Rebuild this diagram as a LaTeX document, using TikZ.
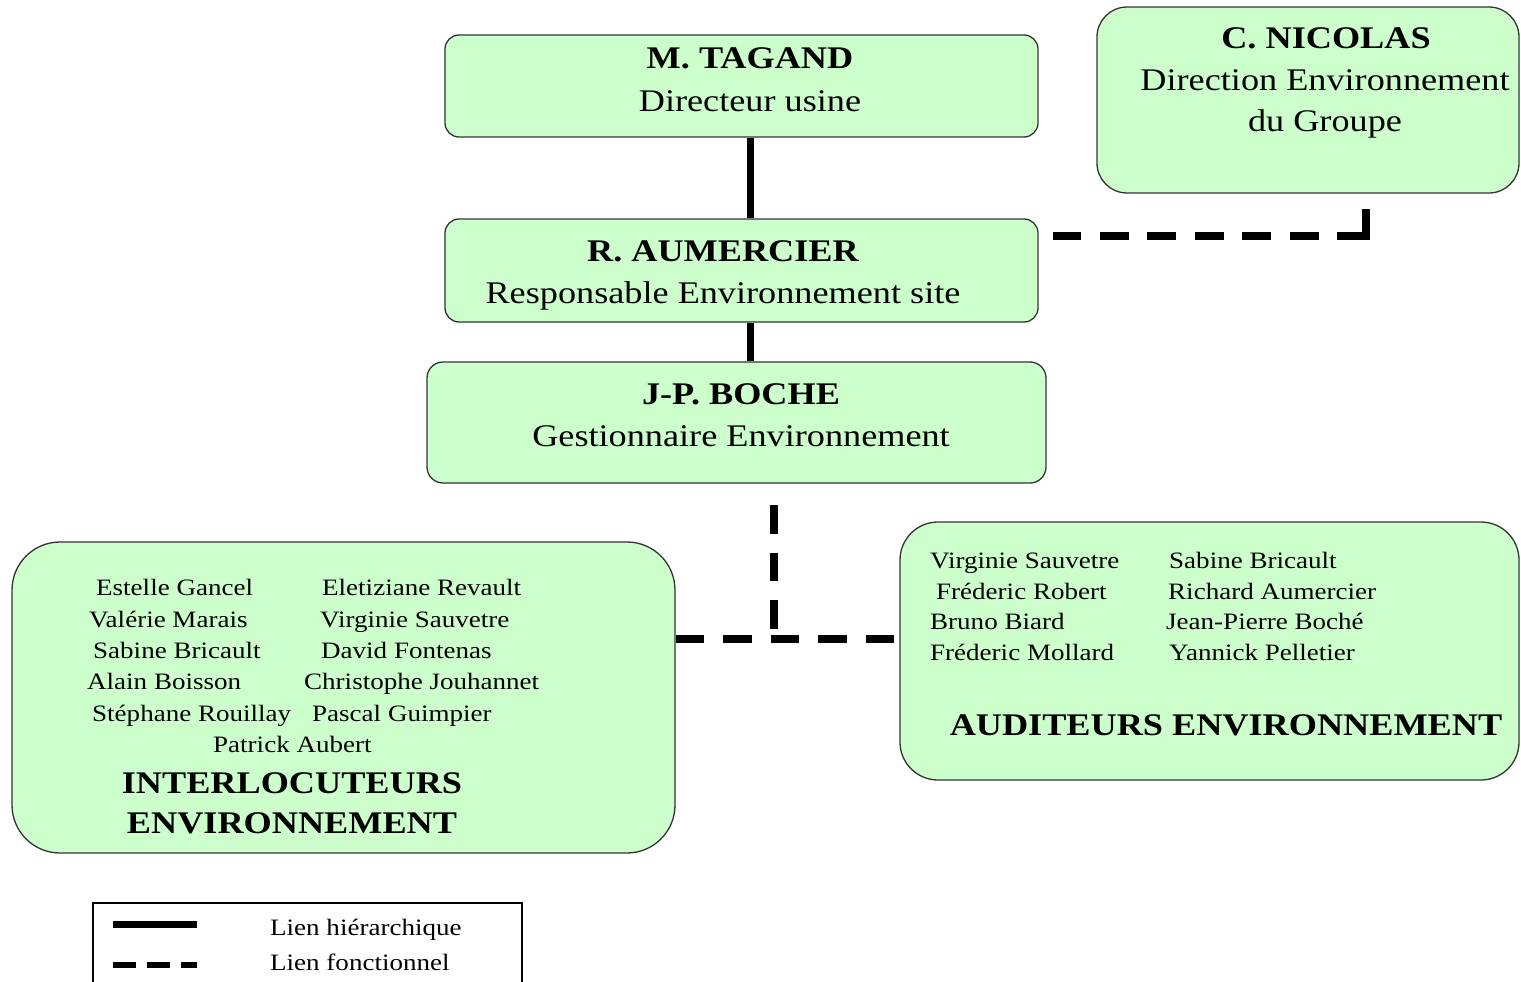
\documentclass[tikz,border=0pt]{standalone}
\usepackage{fontspec}
\setmainfont[FakeStretch=1.15]{Liberation Serif}
\usetikzlibrary{positioning}
\definecolor{vert}{RGB}{204,255,204}

\tikzset{
  cadre/.style={draw=black!80, line width=1.3pt, fill=vert, inner sep=0pt},
  titre/.style={font=\fontsize{31.5}{42}\selectfont, anchor=base, inner sep=0pt},
  gras/.style={titre, font=\fontsize{31.5}{42}\selectfont\bfseries},
  nom/.style={font=\fontsize{23.5}{31}\selectfont, anchor=base west, inner sep=0pt},
  hier/.style={line width=7pt},
  fonc/.style={line width=8.5pt, dash pattern=on 28.5pt off 19pt},
}

\begin{document}
\begin{tikzpicture}[x=1pt, y=-1pt]
            \useasboundingbox (0,0) rectangle (1521,982);
            % Boxes
            \node[cadre, rounded corners=14pt, minimum width=593pt, minimum height=102pt] (tagand) at (741.5,86) {};
            \node[cadre, rounded corners=14pt, minimum width=593pt, minimum height=103pt] (aumercier) at (741.5,270.5) {};
            \node[cadre, rounded corners=16pt, minimum width=619pt, minimum height=121pt] (boche) at (736.5,422.5) {};
            \node[cadre, rounded corners=30pt, minimum width=422pt, minimum height=186pt] (nicolas) at (1308,100) {};
            \node[cadre, rounded corners=48pt, minimum width=663pt, minimum height=311pt] (inter) at (343.5,697.5) {};
            \node[cadre, rounded corners=38pt, minimum width=619pt, minimum height=258pt] (audit) at (1209.5,651) {};
            % Titles
            \node[gras] (tagandnom) at (750,69) {M. TAGAND};
            \node[titre] (tagandrole) at (750,111) {Directeur usine};
            \node[gras] (aumerciernom) at (723,261) {R. AUMERCIER};
            \node[titre] (aumercierrole) at (723,303) {Responsable Environnement site};
            \node[gras] (bochenom) at (741,404) {J-P. BOCHE};
            \node[titre] (bocherole) at (741,446) {Gestionnaire Environnement};
            \node[gras] (nicolasnom) at (1326,49) {C. NICOLAS};
            \node[titre] (nicolasrole) at (1325,91) {Direction Environnement};
            \node[titre] (nicolasgroupe) at (1325,131) {du Groupe};
            % Interlocuteurs
            \node[nom] (i1) at (96,595) {Estelle Gancel};
            \node[nom] (i2) at (89,627) {Valérie Marais};
            \node[nom] (i3) at (93,658) {Sabine Bricault};
            \node[nom] (i4) at (87,689) {Alain Boisson};
            \node[nom] (i5) at (92,721) {Stéphane Rouillay};
            \node[nom] (i6) at (322,595) {Eletiziane Revault};
            \node[nom] (i7) at (320,627) {Virginie Sauvetre};
            \node[nom] (i8) at (321,658) {David Fontenas};
            \node[nom] (i9) at (304,689) {Christophe Jouhannet};
            \node[nom] (i10) at (312,721) {Pascal Guimpier};
            \node[nom] (i11) at (213,752) {Patrick Aubert};
            \node[gras] (intertitre1) at (292,793) {INTERLOCUTEURS};
            \node[gras] (intertitre2) at (292,833) {ENVIRONNEMENT};
            % Auditeurs
            \node[nom] (a1) at (930,568) {Virginie Sauvetre};
            \node[nom] (a2) at (936,599) {Fréderic Robert};
            \node[nom] (a3) at (930,629) {Bruno Biard};
            \node[nom] (a4) at (930,660) {Fréderic Mollard};
            \node[nom] (a5) at (1169,568) {Sabine Bricault};
            \node[nom] (a6) at (1168,599) {Richard Aumercier};
            \node[nom] (a7) at (1166,629) {Jean-Pierre Boché};
            \node[nom] (a8) at (1169,660) {Yannick Pelletier};
            \node[gras] (audittitre) at (1226,735) {AUDITEURS ENVIRONNEMENT};
            % Links
            \draw[hier] ([xshift=9pt]tagand.south) -- ([xshift=9pt]aumercier.north);
            \draw[hier] ([xshift=9pt]aumercier.south) -- ([xshift=9pt]aumercier.south |- boche.north);
            \coordinate (coude) at (1366,209);
            \coordinate (depart) at (1053,236);
            \draw[fonc, dash pattern=on 56pt off 18.5pt on 29pt off 18.5pt on 29pt off 18.5pt on 29pt off 18.5pt on 29pt off 18.5pt on 29pt off 18.5pt on 29pt off 18.5pt] (coude) |- (depart);
            \draw[fonc] ([yshift=58.5pt]inter.east) -- ([yshift=58.5pt]inter.east -| audit.west);
            \coordinate (tete) at (774,505);
            \coordinate (jonction) at (774,639);
            \draw[fonc] (tete) -- (jonction);
            % Legend
            \node[draw=black, line width=1.3pt, minimum width=429pt, minimum height=100pt, inner sep=0pt] (legende) at (307.5,953) {};
            \draw[hier] (113,924) -- (197,924);
            \draw[fonc, line width=6.5pt, dash pattern=on 23pt off 11pt] (113,965) -- (197,965);
            \node[nom] (lienh) at (270,935) {Lien hiérarchique};
            \node[nom] (lienf) at (270,970) {Lien fonctionnel};
        \end{tikzpicture}
\end{document}
